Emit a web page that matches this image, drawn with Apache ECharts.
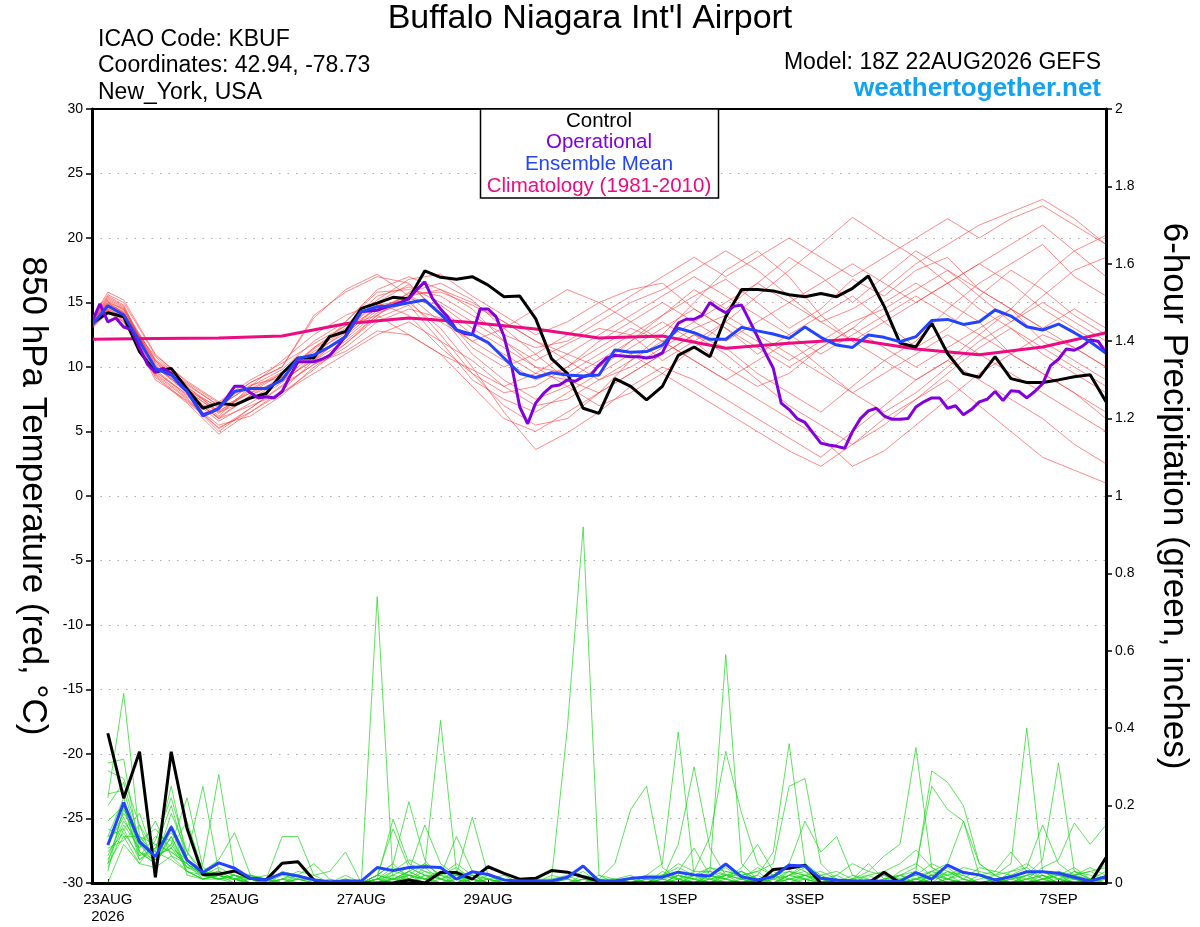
<!DOCTYPE html>
<html><head><meta charset="utf-8">
<script src="https://cdn.jsdelivr.net/npm/echarts@6/dist/echarts.min.js"></script>
<style>html,body{margin:0;padding:0;background:#fff}#c{width:1200px;height:927px}</style>
</head><body><div id="c"></div>
<script>
// ---------- axis / label data ----------
const XTICK_HOURS = [6, 54, 102, 150, 222, 270, 318, 366];
const XTICK_LABELS = ['23AUG\n2026', '25AUG', '27AUG', '29AUG', '1SEP', '3SEP', '5SEP', '7SEP'];
const HOURS_6H = [];  for (let h = 0; h <= 384; h += 6) HOURS_6H.push(h);
const PRECIP_HOURS = HOURS_6H.slice(1);
const OPER_HOURS = []; for (let h = 0; h <= 384; h += 3) OPER_HOURS.push(h);
const MEMBER_HOURS = [0,6,12,24,36,48,60,72,84,96,108,120,132,144,156,168,180,192,204,216,228,240,252,264,276,288,300,312,324,336,348,360,372,384];
const CLIM_HOURS = [0,24,48,72,96,120,144,168,192,216,240,264,288,312,336,360,384];

// ---------- 850 hPa temperature (°C) ----------
const CONTROL_TEMP = [13.4,14.2,13.9,11.2, 9.6,9.9,8.3,6.8, 7.2,7.05,7.6,7.95, 9.5,10.7,10.7,12.35,
  12.75,14.55,14.95,15.4, 15.3,17.45,16.95,16.8, 17.0,16.35,15.45,15.5, 13.75,10.65,9.5,6.8,
  6.4,9.1,8.5,7.45, 8.5,10.9,11.55,10.8, 13.9,16.0,16.0,15.9, 15.6,15.45,15.7,15.45,
  16.1,17.05,14.7,11.85, 11.55,13.4,11.05,9.5, 9.2,10.8,9.1,8.8, 8.8,9.0,9.25,9.4, 7.3];
const MEAN_TEMP = [13.26,14.75,14.03,12.0, 9.9,9.38,8.1,6.2, 6.8,8.1,8.34,8.34, 9.0,10.67,10.93,11.57,
  12.35,14.29,14.67,14.75, 14.98,15.19,14.1,12.87, 12.53,11.9,10.7,9.5, 9.19,9.55,9.38,9.3,
  9.38,11.32,11.14,11.2, 11.7,13.0,12.66,12.15, 12.15,13.07,12.8,12.56, 12.22,13.1,12.3,11.7,
  11.52,12.48,12.3,11.96, 12.35,13.6,13.69,13.3, 13.51,14.42,13.95,13.12, 12.87,13.33,12.66,11.96, 11.06];
const OPER_TEMP = [13.5,14.9,13.5,13.8,13.1,12.9,11.5,10.2, 9.6,9.9,9.5,8.7,8.1,7.2,6.3,6.5,
  6.8,7.6,8.5,8.5,8.0,7.6,7.7,7.6, 8.1,9.3,10.4,10.4,10.4,10.6,10.9,11.6,
  12.4,13.4,14.3,14.35,14.4,14.6,14.8,15.0, 15.3,16.0,16.6,15.3,14.5,13.8,12.9,12.6,
  12.5,14.5,14.5,13.9,12.4,10.0,6.9,5.6, 7.2,7.95,8.5,8.6,9.0,8.9,9.25,9.4,
  10.15,10.7,10.9,10.85,10.8,10.8,10.7,10.8, 11.1,12.35,13.4,13.7,13.7,14.0,15.0,14.55,
  14.2,14.7,14.8,13.6,12.35,11.1,9.9,7.2, 6.7,6.0,5.7,4.9,4.1,3.95,3.85,3.7,
  5.0,6.0,6.6,6.8,6.2,5.95,5.95,6.0, 6.9,7.3,7.6,7.6,6.8,7.0,6.3,6.7,
  7.3,7.5,8.1,7.4,8.15,8.1,7.6,8.1, 8.7,10.1,10.6,11.4,11.3,11.6,12.1,12.0, 11.1];
const CLIM_TEMP = [12.15,12.2,12.25,12.4,13.35,13.8,13.45,12.95,12.25,12.4,11.45,11.85,12.15,11.4,10.95,11.55,12.65];

const MEMBER_TEMP_1  = [13.5,15.2,14.5,10.2,8.0,6.0,7.8,9.2,11.5,13.2,15.5,16.2,15.0,13.5,12.0,10.5,11.8,13.0,12.5,14.0,15.5,16.8,15.0,13.0,14.5,16.8,15.5,17.5,18.5,16.0,14.5,12.0,10.5,9.0];
const MEMBER_TEMP_2  = [13.2,14.5,13.8,9.5,7.6,5.2,6.8,8.5,10.2,11.8,14.0,15.8,16.5,15.2,13.0,11.0,9.0,8.0,9.5,11.0,12.5,11.5,9.5,8.0,6.5,8.5,10.5,12.0,14.5,16.5,18.0,19.5,17.0,15.5];
const MEMBER_TEMP_3  = [13.8,15.8,15.2,11.0,8.8,7.2,8.8,10.0,14.0,15.8,17.0,16.5,14.0,11.0,9.0,7.5,8.5,10.0,12.0,13.5,12.0,10.0,8.5,9.5,11.5,13.0,15.0,16.5,15.0,13.5,11.0,9.5,8.0,6.5];
const MEMBER_TEMP_4  = [13.0,14.2,13.5,9.2,7.2,4.8,6.5,8.2,10.5,12.5,14.8,15.2,12.5,9.5,7.0,5.5,6.0,8.0,10.5,12.5,15.0,17.5,19.0,17.0,14.0,12.0,10.5,9.0,10.5,12.5,14.5,17.0,19.0,20.2];
const MEMBER_TEMP_5  = [13.4,14.8,14.2,10.5,8.4,6.8,8.0,9.0,11.0,12.8,15.2,16.8,17.2,15.5,14.0,12.5,13.5,15.0,16.0,16.5,14.5,13.0,11.0,12.5,14.0,15.5,13.5,11.5,13.0,15.5,17.5,16.0,14.0,12.5];
const MEMBER_TEMP_6  = [13.6,15.5,14.8,9.8,7.8,5.8,7.2,8.8,10.8,12.2,14.2,15.0,13.0,10.0,6.5,3.6,4.9,6.5,8.5,10.0,9.0,7.5,6.0,4.5,3.0,5.0,7.0,9.0,10.5,9.0,7.5,6.0,4.0,2.5];
const MEMBER_TEMP_7  = [13.3,14.6,14.0,10.8,8.6,7.0,8.5,9.8,12.0,13.5,15.8,16.0,15.5,14.0,12.5,11.5,12.0,13.5,15.0,16.0,17.5,19.0,17.5,15.5,13.5,14.5,16.0,18.0,19.5,21.0,22.0,23.0,21.5,19.5];
const MEMBER_TEMP_8  = [13.1,14.4,13.6,9.0,7.4,5.5,6.2,7.8,10.0,11.5,13.5,14.5,13.8,12.0,10.5,9.0,10.0,11.5,13.0,12.0,10.5,9.0,7.5,6.0,4.5,2.3,3.5,5.5,7.5,9.5,11.0,12.5,11.5,10.0];
const MEMBER_TEMP_9  = [13.7,15.0,14.5,10.0,8.2,6.4,8.2,9.5,11.5,13.0,14.5,15.5,16.0,14.5,12.0,10.0,8.5,7.0,8.0,9.5,11.5,13.5,15.5,17.5,19.5,21.6,20.0,18.5,16.5,14.5,13.0,11.5,10.0,8.5];
const MEMBER_TEMP_10 = [13.5,15.3,14.6,10.5,8.5,6.5,7.5,9.0,10.5,12.0,14.0,15.5,14.5,12.5,11.0,9.5,9.0,10.5,12.0,14.0,16.0,14.5,16.5,18.5,17.0,15.0,17.0,19.0,17.5,15.5,13.5,15.5,17.5,18.5];
const MEMBER_TEMP_11 = [13.2,14.5,13.9,9.6,7.9,6.0,7.0,8.0,9.5,11.0,12.5,13.5,12.0,10.5,8.5,7.0,7.5,9.0,10.0,11.5,13.0,14.0,12.5,11.0,9.5,8.0,9.5,11.0,12.5,11.0,9.5,8.0,6.5,5.0];
const MEMBER_TEMP_12 = [13.4,15.0,14.2,10.0,8.0,6.2,8.5,10.5,12.5,14.0,15.0,14.0,11.5,9.5,8.0,8.5,10.0,12.0,13.5,15.0,13.5,12.0,13.5,15.0,16.5,18.0,16.5,15.0,16.5,18.0,19.5,21.0,19.0,17.0];
const MEMBER_TEMP_13 = [13.6,14.9,14.3,10.3,8.3,6.6,8.0,9.5,11.0,13.5,16.0,17.0,16.0,15.0,13.5,12.0,10.5,9.0,10.5,12.0,10.5,9.0,10.5,12.0,10.0,8.0,6.5,8.0,10.0,12.0,13.5,15.0,13.5,12.0];
const MEMBER_TEMP_14 = [13.0,14.3,13.5,9.4,7.5,5.0,6.8,8.6,10.2,11.2,12.8,12.5,11.0,8.5,6.0,5.0,6.5,8.0,9.5,11.0,12.5,11.0,9.0,7.0,5.5,4.0,5.5,7.5,9.5,11.5,13.0,11.0,9.5,8.0];
const MEMBER_TEMP_15 = [13.5,15.1,14.4,10.6,8.7,7.0,8.8,10.0,13.8,16.0,17.2,15.5,13.5,12.0,13.0,14.5,16.0,15.0,13.5,12.0,13.5,15.0,16.5,15.0,13.5,12.0,13.5,15.0,16.5,18.0,16.5,14.5,13.0,11.5];
const MEMBER_TEMP_16 = [13.3,14.7,14.1,10.1,8.1,6.5,8.3,9.6,11.2,12.6,14.6,15.3,14.8,13.0,11.5,10.0,9.5,11.0,12.5,10.5,12.0,13.5,12.0,10.5,12.0,13.5,14.5,16.0,17.5,16.0,14.5,13.0,14.5,13.0];
const MEMBER_TEMP_17 = [13.8,15.6,15.0,10.9,8.9,7.3,9.0,10.3,11.8,13.2,14.0,12.5,11.0,9.8,8.5,9.5,11.0,12.5,14.0,15.5,17.0,15.5,14.0,12.5,11.0,12.5,14.0,15.5,14.0,12.5,11.0,9.5,8.0,6.0];
const MEMBER_TEMP_18 = [13.1,14.4,13.7,9.3,7.3,5.3,6.5,8.0,9.8,11.8,13.8,14.8,12.0,9.0,7.5,6.5,8.0,9.5,11.0,9.5,8.0,6.5,5.0,3.5,2.3,4.0,6.0,7.5,9.0,7.0,5.0,3.0,2.0,1.0];
const MEMBER_TEMP_19 = [13.4,14.9,14.2,10.4,8.2,6.9,8.6,9.2,11.4,12.8,15.0,16.4,14.2,11.5,10.0,11.0,12.5,14.0,15.5,17.0,18.5,17.0,18.5,20.0,18.5,17.0,18.5,20.0,21.5,20.0,21.5,22.5,21.0,19.5];
const MEMBER_TEMP_20 = [13.6,15.4,14.7,9.7,7.7,6.1,7.8,8.9,10.6,12.4,14.4,15.7,15.8,14.8,13.5,12.0,11.0,10.0,11.5,13.0,14.5,13.0,11.5,10.0,11.5,13.0,11.5,10.0,11.5,13.0,14.5,13.0,11.5,10.0];

// ---------- 6-hour precipitation (inches), from 23AUG 00Z ----------
const CONTROL_PRECIP = [0.387,0.219,0.339,0.015,0.339,0.141,0.021,0.023, 0.031,0.012,0.008,0.051,0.055,0.008,0,0,
  0,0,0,0.008,0,0.027,0.027,0.01, 0.042,0.025,0.01,0.012,0.032,0.028,0.016,0.005,
  0,0,0,0,0,0,0,0, 0,0,0.035,0.038,0.046,0,0,0, 0,0.028,0,0,0,0,0,0, 0,0,0,0,0,0,0,0.066];
const MEAN_PRECIP = [0.098,0.208,0.107,0.068,0.145,0.059,0.027,0.052, 0.038,0.012,0.008,0.025,0.018,0.008,0.003,0.005,
  0.005,0.04,0.032,0.04,0.042,0.04,0.01,0.029, 0.022,0.008,0.005,0.005,0.005,0.015,0.044,0.005,
  0.005,0.012,0.015,0.015,0.028,0.021,0.018,0.049, 0.016,0.008,0.016,0.046,0.044,0.012,0.008,0.005,
  0.005,0.004,0.004,0.027,0.01,0.046,0.027,0.021, 0.008,0.016,0.029,0.029,0.025,0.015,0.005,0.016];

const MEMBER_PRECIP_1  = [0.22,0.49,0.12,0.10,0.08,0.05,0.02,0.01, 0.01,0,0,0.02,0.01,0,0,0, 0,0.01,0.02,0.04,0.02,0,0.01,0, 0,0,0,0.01,0,0,0.01,0, 0,0.01,0.02,0.05,0.39,0.02,0,0.01, 0,0,0.01,0.03,0.02,0,0,0, 0,0,0.01,0.02,0,0,0,0, 0,0,0.02,0.03,0.01,0,0,0];
const MEMBER_PRECIP_2  = [0.31,0.32,0.08,0.05,0.12,0.03,0.01,0.02, 0.01,0.01,0,0,0.02,0.01,0,0, 0,0.74,0.01,0.03,0.01,0,0,0.02, 0.01,0,0,0,0.02,0.01,0,0, 0,0,0,0.02,0.03,0.09,0.02,0, 0,0.01,0.02,0.05,0.03,0.01,0,0, 0,0,0,0.01,0.03,0.02,0,0, 0,0.02,0.04,0.01,0,0,0.01,0.03];
const MEMBER_PRECIP_3  = [0.29,0.27,0.15,0.08,0.25,0.06,0.02,0.01, 0.02,0,0,0.01,0,0,0,0, 0,0.02,0.05,0.01,0,0.03,0,0.01, 0,0,0,0.01,0.01,0.40,0.92,0.02, 0,0,0.01,0,0.02,0.01,0,0.03, 0.02,0,0,0.02,0.05,0.01,0,0, 0,0,0,0,0.02,0.01,0,0, 0,0,0.01,0.02,0,0.03,0.01,0];
const MEMBER_PRECIP_4  = [0.23,0.24,0.10,0.06,0.10,0.22,0.04,0.02, 0.01,0.01,0.02,0,0,0,0,0.01, 0,0.01,0.03,0.06,0.04,0.42,0.03,0, 0.01,0,0.01,0,0,0,0,0.01, 0,0,0,0.03,0.01,0,0.02,0.04, 0.01,0,0,0.01,0.02,0.03,0.01,0, 0,0.01,0.02,0,0,0.01,0.02,0, 0,0,0,0.01,0.02,0,0,0.01];
const MEMBER_PRECIP_5  = [0.16,0.20,0.06,0.09,0.13,0.07,0.25,0.03, 0.02,0.01,0,0,0.01,0,0,0, 0,0,0.01,0.02,0.05,0.02,0,0.01, 0,0.01,0,0,0,0,0,0, 0,0.01,0,0.02,0.01,0.03,0.03,0.59, 0.05,0.01,0,0.02,0.04,0,0,0.01, 0,0,0.03,0.05,0.02,0,0,0, 0.01,0,0,0,0.03,0.02,0,0];
const MEMBER_PRECIP_6  = [0.10,0.18,0.12,0.07,0.09,0.04,0.05,0.28, 0.03,0.02,0.01,0,0,0,0,0, 0,0.01,0,0.03,0.01,0.02,0.05,0.02, 0,0,0,0,0,0,0.02,0.01, 0,0,0,0,0,0.02,0.04,0.02, 0.01,0.02,0.08,0.36,0.05,0.02,0,0, 0,0,0,0.01,0,0.03,0.02,0, 0,0.01,0,0.02,0,0.01,0,0];
const MEMBER_PRECIP_7  = [0.10,0.17,0.08,0.05,0.18,0.08,0.03,0.02, 0.01,0,0,0.03,0.02,0,0,0.01, 0,0.02,0.05,0.21,0.06,0.01,0,0, 0,0,0.01,0,0,0,0,0, 0.01,0.02,0,0,0,0.02,0.01,0, 0.01,0,0,0.02,0.01,0,0.02,0.05, 0.03,0.07,0.10,0.35,0.04,0.01,0,0, 0,0,0.01,0,0,0.02,0.04,0.02];
const MEMBER_PRECIP_8  = [0.06,0.15,0.09,0.16,0.07,0.05,0.02,0.04, 0.02,0.01,0,0,0,0,0,0, 0,0.01,0.165,0.05,0.03,0.02,0.04,0.01, 0,0,0,0,0,0,0,0, 0,0,0.01,0.01,0.02,0,0.01,0.02, 0.03,0.01,0,0,0.02,0.01,0,0, 0,0,0,0,0.01,0.02,0.04,0.03, 0.02,0.05,0.40,0.03,0.01,0,0,0];
const MEMBER_PRECIP_9  = [0.12,0.14,0.18,0.06,0.10,0.04,0.03,0.06, 0.13,0.02,0.01,0,0,0,0,0, 0,0.02,0.01,0,0.02,0.01,0,0.02, 0.01,0,0,0,0.01,0.02,0,0, 0,0,0,0.01,0,0.01,0.02,0.01, 0,0,0.02,0.01,0,0,0.01,0, 0,0,0.01,0.02,0.05,0.03,0.01,0, 0,0.01,0.02,0.06,0.31,0.03,0.02,0.01];
const MEMBER_PRECIP_10 = [0.03,0.20,0.07,0.12,0.11,0.03,0.01,0.02, 0.01,0.02,0.01,0.12,0.12,0.02,0,0, 0,0.01,0,0.02,0.01,0,0.01,0, 0.02,0,0,0,0,0.01,0.03,0, 0,0,0,0,0.02,0.01,0,0.02, 0.02,0.03,0,0.01,0,0,0,0.01, 0.02,0,0.02,0.03,0.29,0.26,0.20,0.05, 0.02,0,0.01,0.02,0,0,0,0];
const MEMBER_PRECIP_11 = [0.05,0.19,0.10,0.05,0.15,0.02,0.01,0.02, 0,0,0,0.01,0.01,0.01,0,0, 0,0,0.03,0.02,0,0.01,0.03,0.02, 0,0,0,0,0,0,0,0.01, 0.05,0.19,0.25,0.04,0.01,0,0.01,0.02, 0,0.01,0,0.02,0.03,0,0,0, 0,0.02,0,0.01,0,0.01,0.03,0.02, 0,0.02,0,0.01,0.03,0.01,0,0];
const MEMBER_PRECIP_12 = [0.07,0.16,0.10,0.08,0.06,0.03,0.02,0.01, 0.02,0,0.01,0,0,0,0.01,0, 0,0,0.02,0.01,0.04,0.01,0,0.03, 0.01,0,0,0,0,0.01,0,0, 0,0,0.02,0.02,0.05,0.03,0.12,0.34, 0.18,0.05,0.02,0,0.01,0,0,0, 0,0.01,0,0,0.02,0.04,0.01,0, 0.01,0,0,0.03,0.02,0.04,0.01,0.05];
const MEMBER_PRECIP_13 = [0.08,0.13,0.07,0.09,0.20,0.06,0.02,0.03, 0.01,0,0,0,0.01,0.01,0,0, 0,0.01,0.04,0.02,0.01,0.03,0.02,0.17, 0.02,0.01,0,0,0,0,0,0, 0,0,0,0.01,0.10,0.30,0.09,0.02, 0.01,0,0.01,0,0,0.02,0.03,0.01, 0,0.01,0.02,0.01,0.03,0.01,0,0.01, 0.02,0,0,0.01,0,0.02,0.03,0.04];
const MEMBER_PRECIP_14 = [0.04,0.14,0.06,0.10,0.08,0.05,0.02,0.01, 0,0.01,0,0,0,0,0,0.01, 0,0,0.01,0.03,0.15,0.05,0.02,0, 0.01,0.02,0,0,0,0,0,0.02, 0.01,0,0,0,0.02,0.01,0.04,0.03, 0.02,0.03,0.05,0.25,0.27,0.05,0.01,0, 0,0,0,0.01,0.02,0.01,0.03,0.02, 0,0.03,0.05,0.02,0.01,0,0,0.02];
const MEMBER_PRECIP_15 = [0.14,0.12,0.12,0.07,0.09,0.16,0.03,0.02, 0.01,0,0,0,0,0,0,0, 0,0.02,0.01,0.01,0.03,0.01,0.02,0.01, 0,0,0,0,0,0,0,0, 0,0,0,0,0.02,0.01,0,0.02, 0.03,0.01,0,0.03,0.02,0.01,0.02,0, 0.01,0,0.02,0.04,0.25,0.19,0.16,0.02, 0.01,0.02,0,0.01,0.02,0.01,0,0.01];
const MEMBER_PRECIP_16 = [0.12,0.22,0.08,0.06,0.12,0.04,0.02,0.03, 0.01,0.02,0,0.01,0.03,0.02,0.03,0.08, 0,0.01,0.01,0.02,0.01,0,0.02,0, 0.01,0,0,0,0,0,0.01,0, 0,0.01,0,0.02,0.04,0.02,0.01,0, 0,0.02,0,0.01,0.01,0,0,0.02, 0.01,0,0.01,0,0.02,0,0.01,0.04, 0.03,0.02,0.01,0.04,0.06,0.155,0.10,0.15];
const MEMBER_PRECIP_17 = [0.09,0.11,0.15,0.04,0.07,0.03,0.01,0.02, 0.01,0,0,0.01,0,0,0,0.02, 0,0.02,0.14,0.04,0.02,0.02,0.01,0.02, 0,0,0,0,0,0,0,0, 0,0,0.01,0,0.01,0,0.03,0.02, 0.01,0.04,0.02,0.03,0.01,0.02,0,0.01, 0.03,0.02,0.01,0.02,0.03,0.05,0.16,0.05, 0.02,0.03,0.04,0.15,0.05,0.02,0.03,0.01];
const MEMBER_PRECIP_18 = [0.05,0.12,0.05,0.11,0.22,0.08,0.02,0.01, 0.02,0.01,0,0,0,0,0,0, 0,0,0.01,0.03,0.05,0.02,0.12,0.03, 0.02,0,0,0,0,0,0,0, 0,0,0,0.01,0,0,0.02,0.01, 0.03,0,0.02,0.05,0.16,0.08,0.12,0.02, 0,0.01,0,0.01,0.02,0,0,0.02, 0.01,0,0.02,0,0.01,0.03,0.01,0];
const MEMBER_PRECIP_19 = [0.20,0.26,0.11,0.14,0.09,0.06,0.03,0.02, 0.01,0,0,0,0.01,0,0,0, 0,0,0,0.02,0.01,0.03,0.02,0.01, 0,0.01,0,0,0,0,0,0, 0,0,0,0,0.01,0.02,0.03,0.01, 0,0,0.01,0.02,0.01,0,0,0, 0.02,0.03,0.05,0.085,0.04,0.02,0.03,0.02, 0.03,0.08,0.03,0.01,0.02,0.01,0,0.02];
const MEMBER_PRECIP_20 = [0,0.10,0.05,0.04,0.14,0.05,0.01,0.01, 0.02,0,0,0.01,0.02,0.05,0.01,0, 0,0,0.01,0,0.02,0.01,0,0.01, 0,0,0,0,0,0,0.01,0.01, 0.01,0,0,0.02,0.01,0,0.02,0.01, 0.04,0.10,0.03,0.01,0.02,0,0,0.01, 0.05,0.01,0.02,0,0.01,0.03,0.01,0, 0,0.01,0.02,0.03,0.01,0.02,0.01,0];

const MEMBER_TEMPS = [MEMBER_TEMP_1,MEMBER_TEMP_2,MEMBER_TEMP_3,MEMBER_TEMP_4,MEMBER_TEMP_5,MEMBER_TEMP_6,MEMBER_TEMP_7,MEMBER_TEMP_8,MEMBER_TEMP_9,MEMBER_TEMP_10,
  MEMBER_TEMP_11,MEMBER_TEMP_12,MEMBER_TEMP_13,MEMBER_TEMP_14,MEMBER_TEMP_15,MEMBER_TEMP_16,MEMBER_TEMP_17,MEMBER_TEMP_18,MEMBER_TEMP_19,MEMBER_TEMP_20];
const MEMBER_PRECIPS = [MEMBER_PRECIP_1,MEMBER_PRECIP_2,MEMBER_PRECIP_3,MEMBER_PRECIP_4,MEMBER_PRECIP_5,MEMBER_PRECIP_6,MEMBER_PRECIP_7,MEMBER_PRECIP_8,MEMBER_PRECIP_9,MEMBER_PRECIP_10,
  MEMBER_PRECIP_11,MEMBER_PRECIP_12,MEMBER_PRECIP_13,MEMBER_PRECIP_14,MEMBER_PRECIP_15,MEMBER_PRECIP_16,MEMBER_PRECIP_17,MEMBER_PRECIP_18,MEMBER_PRECIP_19,MEMBER_PRECIP_20];

// ---------- build ----------
const FONT = '"Liberation Sans", Arial, Helvetica, sans-serif';
const pair = (hs, vs) => vs.map((v, i) => [hs[i], v]);
const series = [];
MEMBER_TEMPS.forEach((m, i) => series.push({
  name: 'member T ' + (i + 1), type: 'line', yAxisIndex: 0, data: pair(MEMBER_HOURS, m),
  symbol: 'none', silent: true, lineStyle: { color: '#ff3b3b', width: 0.8, opacity: 0.75 }, z: 2
}));
MEMBER_PRECIPS.forEach((m, i) => series.push({
  name: 'member P ' + (i + 1), type: 'line', yAxisIndex: 1, data: pair(PRECIP_HOURS, m),
  symbol: 'none', silent: true, lineStyle: { color: '#1fd61f', width: 0.8, opacity: 0.9 }, z: 2
}));
series.push({ name: 'Control P', type: 'line', yAxisIndex: 1, data: pair(PRECIP_HOURS, CONTROL_PRECIP), symbol: 'none', lineStyle: { color: '#000', width: 3 }, z: 4 });
series.push({ name: 'Mean P', type: 'line', yAxisIndex: 1, data: pair(PRECIP_HOURS, MEAN_PRECIP), symbol: 'none', lineStyle: { color: '#2244ff', width: 3 }, z: 5 });
series.push({ name: 'Climatology', type: 'line', yAxisIndex: 0, data: pair(CLIM_HOURS, CLIM_TEMP), symbol: 'none', lineStyle: { color: '#ee0a80', width: 3 }, z: 3 });
series.push({ name: 'Control', type: 'line', yAxisIndex: 0, data: pair(HOURS_6H, CONTROL_TEMP), symbol: 'none', lineStyle: { color: '#000', width: 3 }, z: 4 });
series.push({ name: 'Operational', type: 'line', yAxisIndex: 0, data: pair(OPER_HOURS, OPER_TEMP), symbol: 'none', lineStyle: { color: '#8200dc', width: 3 }, z: 5 });
series.push({ name: 'Ensemble Mean', type: 'line', yAxisIndex: 0, data: pair(HOURS_6H, MEAN_TEMP), symbol: 'none', lineStyle: { color: '#2244ff', width: 3 }, z: 6 });

const chart = echarts.init(document.getElementById('c'), null, { renderer: 'canvas' });
chart.setOption({
  animation: false,
  backgroundColor: '#fff',
  textStyle: { fontFamily: FONT },
  grid: { left: 92, right: 94, top: 109, bottom: 44, show: true, borderColor: '#000', borderWidth: 2, backgroundColor: 'transparent', z: 10 },
  xAxis: {
    type: 'value', min: 0, max: 384,
    axisLine: { onZero: false, lineStyle: { color: '#000', width: 3 } },
    axisTick: { show: true, inside: true, length: 4, customValues: XTICK_HOURS, lineStyle: { color: '#000', width: 1 } },
    axisLabel: { customValues: XTICK_HOURS, color: '#000', fontSize: 15, fontFamily: FONT, margin: 8, lineHeight: 17,
      formatter: v => XTICK_LABELS[XTICK_HOURS.indexOf(v)] },
    splitLine: { show: false }
  },
  yAxis: [{
    type: 'value', min: -30, max: 30, interval: 5, position: 'left',
    name: '850 hPa Temperature (red, °C)', nameLocation: 'middle', nameRotate: -90, nameGap: 42,
    nameTextStyle: { fontSize: 35, color: '#000', fontFamily: FONT },
    axisLine: { show: true, onZero: false, lineStyle: { color: '#000', width: 3 } },
    axisTick: { show: true, length: 6, lineStyle: { color: '#000', width: 1.5 } },
    axisLabel: { color: '#000', fontSize: 14, fontFamily: FONT, margin: 9 },
    splitLine: { show: true, showMinLine: false, showMaxLine: false, lineStyle: { color: '#aaa', width: 1.2, type: [1.5, 7] } }
  }, {
    type: 'value', min: 0, max: 2, interval: 0.2, position: 'right',
    name: '6-hour Precipitation (green, inches)', nameLocation: 'middle', nameRotate: -90, nameGap: 50,
    nameTextStyle: { fontSize: 35, color: '#000', fontFamily: FONT },
    axisLine: { show: true, onZero: false, lineStyle: { color: '#000', width: 3 } },
    axisTick: { show: true, length: 6, lineStyle: { color: '#000', width: 1.5 } },
    axisLabel: { color: '#000', fontSize: 14, fontFamily: FONT, margin: 9 },
    splitLine: { show: false }
  }],
  graphic: [
    { type: 'text', z: 100, style: { x: 590, y: 19, text: "Buffalo Niagara Int'l Airport", font: '34px ' + FONT, fill: '#000', align: 'center', verticalAlign: 'middle' } },
    { type: 'text', z: 100, style: { x: 98, y: 40, text: 'ICAO Code: KBUF', font: '23px ' + FONT, fill: '#000', align: 'left', verticalAlign: 'middle' } },
    { type: 'text', z: 100, style: { x: 98, y: 66, text: 'Coordinates: 42.94, -78.73', font: '23px ' + FONT, fill: '#000', align: 'left', verticalAlign: 'middle' } },
    { type: 'text', z: 100, style: { x: 98, y: 93, text: 'New_York, USA', font: '23px ' + FONT, fill: '#000', align: 'left', verticalAlign: 'middle' } },
    { type: 'text', z: 100, style: { x: 1101, y: 63, text: 'Model: 18Z 22AUG2026 GEFS', font: '23px ' + FONT, fill: '#000', align: 'right', verticalAlign: 'middle' } },
    { type: 'text', z: 100, style: { x: 1101, y: 89, text: 'weathertogether.net', font: 'bold 26px ' + FONT, fill: '#12a2f2', align: 'right', verticalAlign: 'middle' } },
    { type: 'rect', z: 100, shape: { x: 480.5, y: 109, width: 238, height: 89 }, style: { fill: '#fff', stroke: '#000', lineWidth: 1.5 } },
    { type: 'text', z: 101, style: { x: 599, y: 121, text: 'Control', font: '20.5px ' + FONT, fill: '#000', align: 'center', verticalAlign: 'middle' } },
    { type: 'text', z: 101, style: { x: 599, y: 142, text: 'Operational', font: '20.5px ' + FONT, fill: '#8200dc', align: 'center', verticalAlign: 'middle' } },
    { type: 'text', z: 101, style: { x: 599, y: 164, text: 'Ensemble Mean', font: '20.5px ' + FONT, fill: '#2244ff', align: 'center', verticalAlign: 'middle' } },
    { type: 'text', z: 101, style: { x: 599, y: 186, text: 'Climatology (1981-2010)', font: '20.5px ' + FONT, fill: '#ee0a80', align: 'center', verticalAlign: 'middle' } }
  ],
  series: series
});
</script></body></html>
